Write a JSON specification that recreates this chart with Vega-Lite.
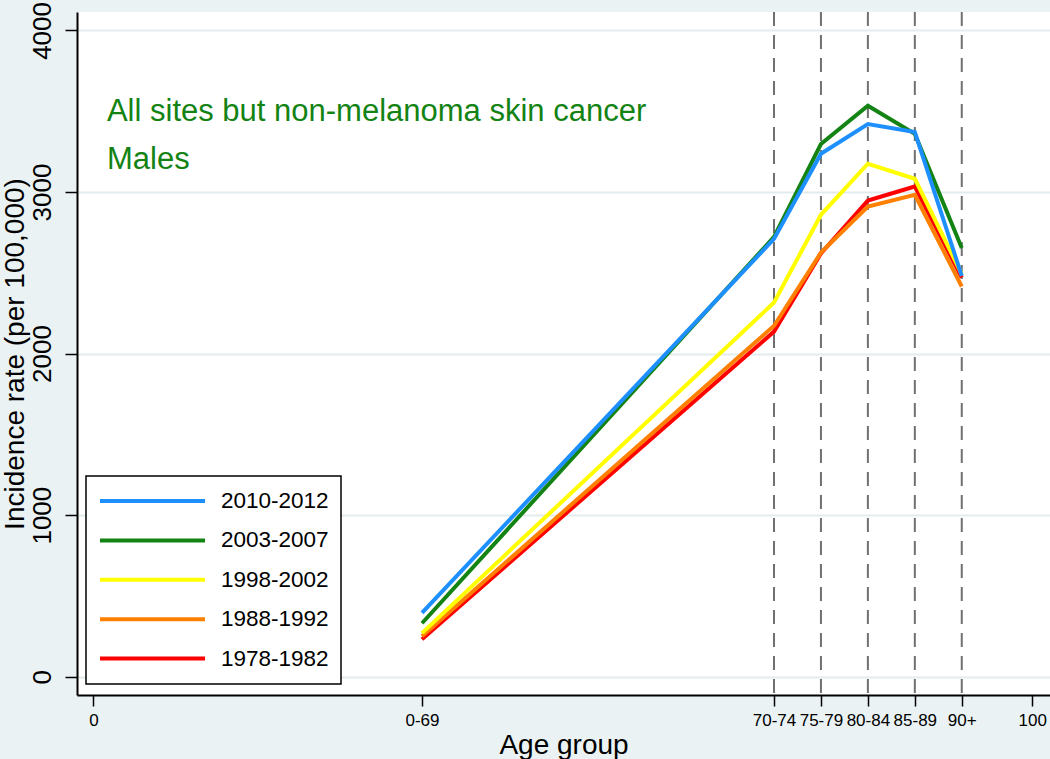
{
  "$schema": "https://vega.github.io/schema/vega-lite/v6.json",
  "width": 973,
  "height": 683,
  "autosize": {"type": "none"},
  "padding": {"left": 77, "top": 12, "right": 0, "bottom": 64},
  "background": "#EAF2F3",
  "config": {
    "font": "Liberation Sans",
    "view": {"fill": "white", "stroke": null},
    "legend": {
      "padding": 12,
      "strokeColor": "black",
      "strokeWidth": 1.5,
      "fillColor": "white",
      "symbolType": "stroke",
      "symbolSize": 11025,
      "symbolStrokeWidth": 4,
      "clipHeight": 26,
      "rowPadding": 13.4,
      "labelOffset": 14,
      "labelFontSize": 22.5,
      "labelColor": "black",
      "labelLimit": 300
    }
  },
  "datasets": {
    "rates": [
      {"period": "1978-1982", "age": 35, "rate": 232},
      {"period": "1978-1982", "age": 72.5, "rate": 2136},
      {"period": "1978-1982", "age": 77.5, "rate": 2620},
      {"period": "1978-1982", "age": 82.5, "rate": 2947},
      {"period": "1978-1982", "age": 87.5, "rate": 3034},
      {"period": "1978-1982", "age": 92.5, "rate": 2470},
      {"period": "1988-1992", "age": 35, "rate": 250},
      {"period": "1988-1992", "age": 72.5, "rate": 2172},
      {"period": "1988-1992", "age": 77.5, "rate": 2625},
      {"period": "1988-1992", "age": 82.5, "rate": 2910},
      {"period": "1988-1992", "age": 87.5, "rate": 2983},
      {"period": "1988-1992", "age": 92.5, "rate": 2415},
      {"period": "1998-2002", "age": 35, "rate": 270},
      {"period": "1998-2002", "age": 72.5, "rate": 2316},
      {"period": "1998-2002", "age": 77.5, "rate": 2859},
      {"period": "1998-2002", "age": 82.5, "rate": 3175},
      {"period": "1998-2002", "age": 87.5, "rate": 3082},
      {"period": "1998-2002", "age": 92.5, "rate": 2492},
      {"period": "2003-2007", "age": 35, "rate": 331},
      {"period": "2003-2007", "age": 72.5, "rate": 2722},
      {"period": "2003-2007", "age": 77.5, "rate": 3297},
      {"period": "2003-2007", "age": 82.5, "rate": 3534},
      {"period": "2003-2007", "age": 87.5, "rate": 3360},
      {"period": "2003-2007", "age": 92.5, "rate": 2653},
      {"period": "2010-2012", "age": 35, "rate": 395},
      {"period": "2010-2012", "age": 72.5, "rate": 2710},
      {"period": "2010-2012", "age": 77.5, "rate": 3237},
      {"period": "2010-2012", "age": 82.5, "rate": 3420},
      {"period": "2010-2012", "age": 87.5, "rate": 3371},
      {"period": "2010-2012", "age": 92.5, "rate": 2481}
    ],
    "groups": [
      {"age": 72.5},
      {"age": 77.5},
      {"age": 82.5},
      {"age": 87.5},
      {"age": 92.5}
    ],
    "notes": [
      {"note": "All sites but non-melanoma skin cancer"}
    ],
    "notes2": [
      {"note": "Males"}
    ]
  },
  "layer": [
    {
      "data": {"name": "groups"},
      "mark": {"type": "rule", "color": "#707070", "strokeWidth": 2, "strokeDash": [14, 9]},
      "encoding": {
        "x": {
          "field": "age",
          "type": "quantitative",
          "scale": {"domain": [-1.75, 101.9], "nice": false, "zero": false},
          "axis": {
            "title": "Age group",
            "titleFontSize": 28,
            "titleFontWeight": "normal",
            "titleColor": "black",
            "titlePadding": 3,
            "values": [0, 35, 72.5, 77.5, 82.5, 87.5, 92.5, 100],
            "labelExpr": "datum.value == 35 ? '0-69' : datum.value == 72.5 ? '70-74' : datum.value == 77.5 ? '75-79' : datum.value == 82.5 ? '80-84' : datum.value == 87.5 ? '85-89' : datum.value == 92.5 ? '90+' : datum.label",
            "labelFontSize": 17,
            "labelColor": "black",
            "labelPadding": 6,
            "labelOverlap": false,
            "labelBound": false,
            "labelFlush": false,
            "tickSize": 11,
            "tickColor": "black",
            "tickWidth": 1.5,
            "domainColor": "black",
            "domainWidth": 2,
            "grid": false
          }
        }
      }
    },
    {
      "data": {"name": "rates"},
      "mark": {"type": "line", "strokeWidth": 4},
      "encoding": {
        "x": {"field": "age", "type": "quantitative"},
        "y": {
          "field": "rate",
          "type": "quantitative",
          "scale": {"domain": [-113, 4114], "nice": false, "zero": false},
          "axis": {
            "title": "Incidence rate (per 100,000)",
            "titleFontSize": 28,
            "titleFontWeight": "normal",
            "titleColor": "black",
            "titlePadding": 0,
            "values": [0, 1000, 2000, 3000, 4000],
            "format": "d",
            "labelAngle": -90,
            "labelAlign": "center",
            "labelBaseline": "bottom",
            "labelFontSize": 26,
            "labelColor": "black",
            "labelPadding": 10,
            "labelOverlap": false,
            "labelBound": false,
            "labelFlush": false,
            "tickSize": 12,
            "tickColor": "black",
            "tickWidth": 1.5,
            "domainColor": "black",
            "domainWidth": 2,
            "grid": true,
            "gridColor": "#E2ECEE",
            "gridWidth": 2
          }
        },
        "color": {
          "field": "period",
          "type": "nominal",
          "scale": {
            "domain": ["2010-2012", "2003-2007", "1998-2002", "1988-1992", "1978-1982"],
            "range": ["#1E8FFF", "#138313", "#FFFF00", "#FF8000", "#FF0000"]
          },
          "legend": {"title": null, "orient": "none", "legendX": 9, "legendY": 464}
        }
      }
    },
    {
      "data": {"name": "notes"},
      "mark": {"type": "text", "align": "left", "baseline": "middle", "fontSize": 31, "color": "#138313"},
      "encoding": {
        "x": {"datum": 1.44, "type": "quantitative"},
        "y": {"datum": 3497, "type": "quantitative"},
        "text": {"field": "note", "type": "nominal"}
      }
    },
    {
      "data": {"name": "notes2"},
      "mark": {"type": "text", "align": "left", "baseline": "middle", "fontSize": 31, "color": "#138313"},
      "encoding": {
        "x": {"datum": 1.44, "type": "quantitative"},
        "y": {"datum": 3199, "type": "quantitative"},
        "text": {"field": "note", "type": "nominal"}
      }
    }
  ]
}
